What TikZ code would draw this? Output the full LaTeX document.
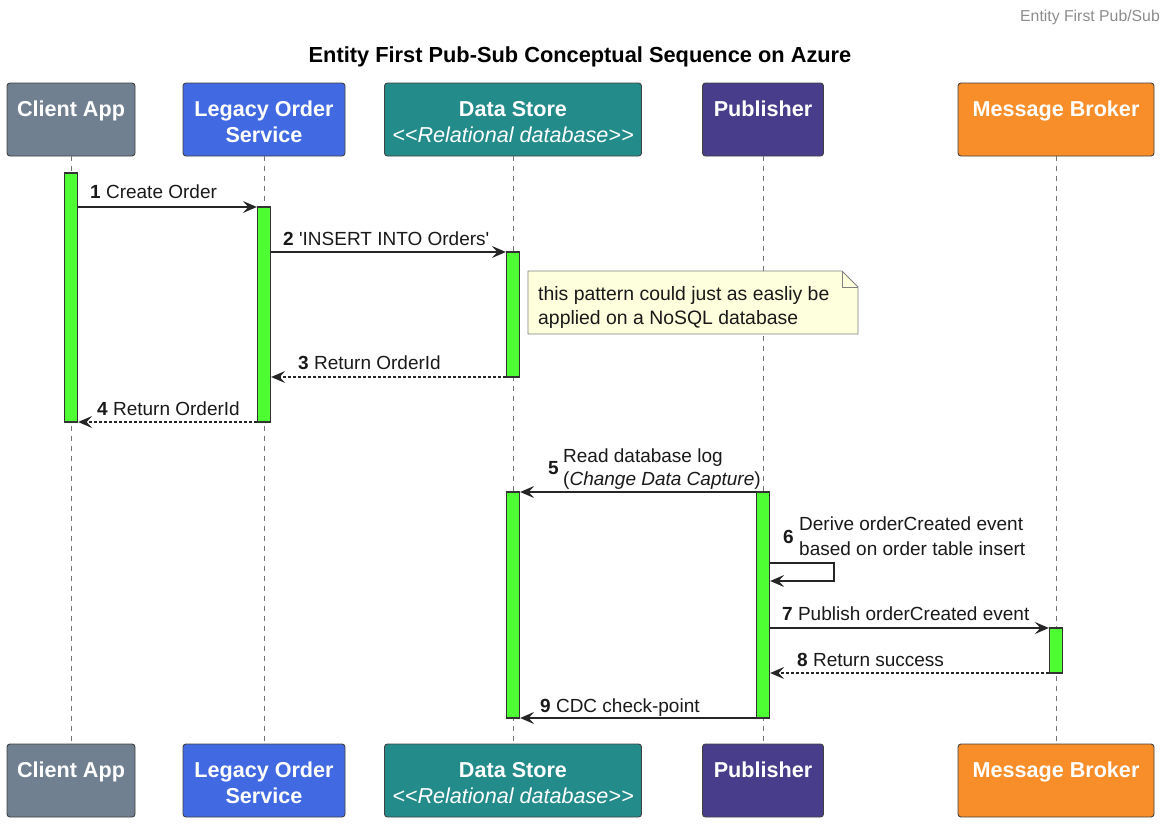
\documentclass[tikz,border=0pt]{standalone}
\usepackage{fontspec}
\setmainfont{Liberation Sans}[Ligatures=TeXOff]
\usetikzlibrary{arrows.meta,positioning}
\definecolor{clientgray}{HTML}{708090}
\definecolor{legacyblue}{HTML}{4169E1}
\definecolor{storeteal}{HTML}{238B89}
\definecolor{pubpurple}{HTML}{483D8B}
\definecolor{brokerorange}{HTML}{F88E2A}
\definecolor{actgreen}{HTML}{4DFF33}
\definecolor{notefill}{HTML}{FEFFDD}
\tikzset{
	actor/.style={draw=black!75, line width=0.9pt, rounded corners=3pt, text=white, align=center, inner sep=0pt,
		minimum height=73pt, font=\fontsize{21.6}{26}\selectfont\bfseries},
	lifeline/.style={draw=black!55, line width=0.8pt, dash pattern=on 5pt off 5pt},
	actbar/.style={draw=black!80, fill=actgreen, line width=1.3pt, minimum width=13pt, inner sep=0pt},
	msg/.style={draw=black!85, line width=1.2pt, -{Stealth[length=14pt,width=12pt,inset=5.5pt]}},
	reply/.style={msg, dash pattern=on 3pt off 2pt},
	msglabel/.style={anchor=base west, inner sep=0pt, text=black!90, font=\fontsize{19}{24}\selectfont},
	msgnum/.style={msglabel, anchor=base east, font=\fontsize{19}{24}\selectfont\bfseries},
	notetext/.style={msglabel, font=\fontsize{19.4}{24}\selectfont},
}
\newcommand{\headstrut}{\rule{0pt}{20pt}}

\begin{document}
\begin{tikzpicture}[x=1pt, y=-1pt]
	%%%%% START %%%%%
	\useasboundingbox (0,0) rectangle (1168,825);
	
	\node[anchor=base east, inner sep=0pt, text=black!45, font=\fontsize{15.8}{18}\selectfont] (tag) at (1160,21) {Entity First Pub/Sub};
	\node[anchor=base, inner sep=0pt, font=\fontsize{21.8}{24}\selectfont\bfseries] (title) at (580,62) {Entity First Pub-Sub Conceptual Sequence on Azure};
	
	% participants
	\node[actor, fill=clientgray, minimum width=128pt] (clientTop) at (71,119.5) {\headstrut Client App\\\mbox{}};
	\node[actor, fill=legacyblue, minimum width=162pt] (legacyTop) at (264,119.5) {\headstrut Legacy Order\\Service};
	\node[actor, fill=storeteal, minimum width=257pt] (storeTop) at (513,119.5) {\headstrut Data Store\\{\mdseries\itshape <<Relational database>>}};
	\node[actor, fill=pubpurple, minimum width=121pt] (pubTop) at (763,119.5) {\headstrut Publisher\\\mbox{}};
	\node[actor, fill=brokerorange, minimum width=196pt] (brokerTop) at (1056,119.5) {\headstrut Message Broker\\\mbox{}};
	
	\node[actor, fill=clientgray, minimum width=128pt] (clientBot) at (71,780.5) {\headstrut Client App\\\mbox{}};
	\node[actor, fill=legacyblue, minimum width=162pt] (legacyBot) at (264,780.5) {\headstrut Legacy Order\\Service};
	\node[actor, fill=storeteal, minimum width=257pt] (storeBot) at (513,780.5) {\headstrut Data Store\\{\mdseries\itshape <<Relational database>>}};
	\node[actor, fill=pubpurple, minimum width=121pt] (pubBot) at (763,780.5) {\headstrut Publisher\\\mbox{}};
	\node[actor, fill=brokerorange, minimum width=196pt] (brokerBot) at (1056,780.5) {\headstrut Message Broker\\\mbox{}};
	
	% lifelines
	\foreach \who in {client,legacy,store,pub,broker}
		\draw[lifeline] (\who Top.south) -- (\who Bot.north);
	
	% activations
	\node[actbar, minimum height=249pt] (actClient) at (71,297.5) {};
	\node[actbar, minimum height=215pt] (actLegacy) at (264,314.5) {};
	\node[actbar, minimum height=125pt] (actStoreA) at (513,314.5) {};
	\node[actbar, minimum height=226pt] (actStoreB) at (513,605) {};
	\node[actbar, minimum height=226pt] (actPub) at (763,605) {};
	\node[actbar, minimum height=45pt] (actBroker) at (1056,650.5) {};
	
	% note
	\coordinate (noteNW) at (528,271);
	\coordinate (noteSE) at (858,334);
	\draw[draw=black!50, fill=notefill, line width=0.8pt] (noteNW) -- (842,271) -- (858,287) -- (noteSE) -- (528,334) -- cycle;
	\draw[draw=black!50, line width=0.8pt] (842,271) -- (842,287) -- (858,287);
	\node[notetext] (noteA) at (538,300) {this pattern could just as easliy be};
	\node[notetext] (noteB) at (538,324) {applied on a NoSQL database};
	
	% messages
	\draw[msg] (actClient.east |- 0,207) -- (actLegacy.west |- 0,207);
	\node[msglabel] (lbl1) at (90,198) {\textbf{1} Create Order};
	
	\draw[msg] (actLegacy.east |- 0,252) -- (actStoreA.west |- 0,252);
	\node[msglabel] (lbl2) at (283,245) {\textbf{2} 'INSERT INTO Orders'};
	
	\draw[reply] (actStoreA.west |- 0,377) -- (actLegacy.east |- 0,377);
	\node[msglabel] (lbl3) at (298,369) {\textbf{3} Return OrderId};
	
	\draw[reply] (actLegacy.west |- 0,422) -- (actClient.east |- 0,422);
	\node[msglabel] (lbl4) at (97,415) {\textbf{4} Return OrderId};
	
	\draw[msg] (actPub.west |- 0,492) -- (actStoreB.east |- 0,492);
	\node[msgnum] (num5) at (559,474) {5};
	\node[msglabel] (lbl5a) at (563,462) {Read database log};
	\node[msglabel] (lbl5b) at (563,485) {(\textit{Change Data Capture})};
	
	\draw[msg] (actPub.east |- 0,563) -- (834,563) -- (834,581) -- (actPub.east |- 0,581);
	\node[msgnum] (num6) at (794,543) {6};
	\node[msglabel] (lbl6a) at (799,530) {Derive orderCreated event};
	\node[msglabel] (lbl6b) at (799,555) {based on order table insert};
	
	\draw[msg] (actPub.east |- 0,628) -- (actBroker.west |- 0,628);
	\node[msglabel] (lbl7) at (782,620) {\textbf{7} Publish orderCreated event};
	
	\draw[reply] (actBroker.west |- 0,673) -- (actPub.east |- 0,673);
	\node[msglabel] (lbl8) at (797,666) {\textbf{8} Return success};
	
	\draw[msg] (actPub.west |- 0,718) -- (actStoreB.east |- 0,718);
	\node[msglabel] (lbl9) at (540,712) {\textbf{9} CDC check-point};
	
	%%%%% END %%%%%
\end{tikzpicture}
\end{document}
